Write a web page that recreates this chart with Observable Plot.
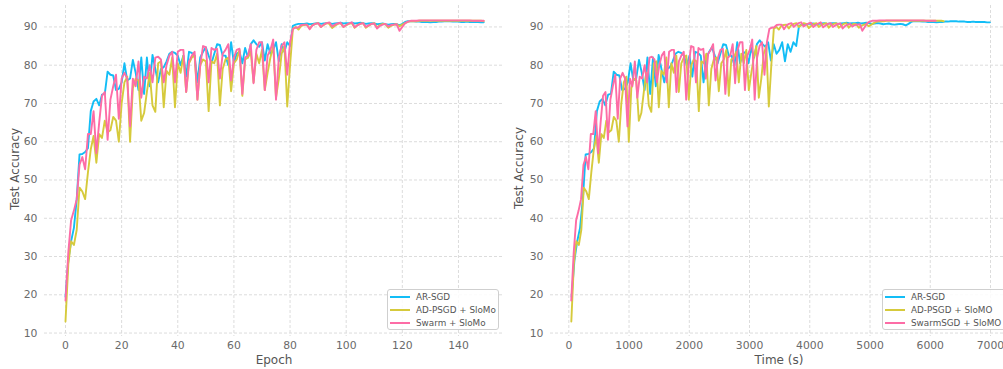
<!DOCTYPE html>
<html><head><meta charset="utf-8">
<script src="https://cdn.jsdelivr.net/npm/d3@7"></script>
<script src="https://cdn.jsdelivr.net/npm/@observablehq/plot@0.6"></script>
<style>
body{margin:0;background:#fff;font-family:"DejaVu Sans",sans-serif;}
#wrap{position:relative;width:1003px;height:369px;overflow:hidden;background:#fff;}
.panel{position:absolute;top:0;}
.title{position:absolute;font-size:12px;color:#555;white-space:nowrap;line-height:1;}
.ylab{transform:translate(-50%,-50%) rotate(-90deg);}
.xlab{transform:translate(-50%,-50%);}
.legend{position:absolute;top:289px;height:41px;box-sizing:border-box;border:1px solid #cfcfcf;border-radius:3px;background:rgba(255,255,255,0.85);font-size:8.8px;color:#555;padding:0 0 0 2px;}
.legend .row{display:flex;align-items:center;height:13px;white-space:nowrap;}
.legend .row:first-child{margin-top:0.5px;}
.legend .sw{width:20px;height:2px;margin-right:6px;flex:none;}
</style>
</head><body>
<div id="wrap"></div>
<script>
// ---- data ----
const epochs = d3.range(150);
const seriesKeys = ["AR-SGD", "AD-PSGD", "Swarm"];
const seriesColors = ["#12bdf6", "#d6ca3c", "#fd6ca6"];
const legendLeft = ["AR-SGD", "AD-PSGD + SloMo", "Swarm + SloMo"];
const legendRight = ["AR-SGD", "AD-PSGD + SloMO", "SwarmSGD + SloMO"];
const secondsPerEpoch = [46.6, 41.5, 40.6];
const yTicks = [10, 20, 30, 40, 50, 60, 70, 80, 90];
const epochTicks = [0, 20, 40, 60, 80, 100, 120, 140];
const timeTicks = [0, 1000, 2000, 3000, 4000, 5000, 6000, 7000];

const arSGD = [19.5,29,34,37.5,45,56.7,56.8,57.3,58.3,68,
 70.5,71.2,69.5,72.3,72.5,78.3,77.5,77.3,73.5,73.8,
 75.5,80.5,76,76.5,81.4,78,73.5,82,72.5,82,
 74.5,82.7,79,75.5,79,79.5,81,83,83.5,83.2,
 82.5,80,82.5,77,83.5,83.2,82.5,75.5,82,83.5,
 84.7,82.5,80.5,83,85.5,85.3,82.5,82.5,80,86,
 80.5,83,83.5,80.5,84.5,82,85.5,86.5,85.5,84.8,
 86,81.2,85.5,83,84,86,81,85.5,83.5,86,
 85,90.3,90.6,90.8,90.8,90.8,90.9,90.7,90.8,90.9,
 91.0,90.8,90.9,91.0,91.0,90.8,90.9,91.0,91.1,90.9,
 91.0,91.0,91.1,90.9,91.0,91.1,91.0,90.8,90.9,91.0,
 90.9,90.7,90.8,90.9,90.7,90.6,90.7,90.8,90.7,90.4,
 90.8,91.3,91.5,91.5,91.5,91.4,91.4,91.3,91.3,91.3,
 91.2,91.3,91.3,91.4,91.4,91.5,91.5,91.5,91.4,91.4,
 91.4,91.3,91.3,91.4,91.3,91.3,91.3,91.3,91.2,91.2];

const adPSGD = [13,28,34,33,37,48,47,45,52,58,
 61.5,54.5,62,61,65.5,62.5,63,66.5,65.5,60,
 70,75.5,77,60,74,76.5,76,65.5,67.5,73,
 78,69.5,67.8,80.5,81,69,78.5,77.5,82,69,
 80.5,78,82.5,73,80.5,82,82.5,71,80,81.5,
 81,68,81,80.5,83,69.5,79,81.5,82,73.2,
 80.5,81.5,84,72,81.5,82,83.5,75.5,83,80.5,
 84,73.5,78,82,85,71.5,76.5,83,85,69.2,
 80,89.5,90,89.3,90.3,90.5,90.6,89.6,90.5,90.8,
 91,90,90.5,91,90.8,89.7,90.3,90.8,91,90,
 90.5,90.8,91,89.8,90.5,90.8,91,89.8,90.3,90.8,
 91,89.8,90.5,90.8,90.7,89.8,90.3,90.6,90.7,90.2,
 90.6,91.0,91.3,91.5,91.5,91.5,91.6,91.6,91.6,91.6,
 91.6,91.6,91.6,91.6,91.6,91.6,91.6,91.6,91.6,91.6,
 91.6,91.6,91.6,91.6,91.6,91.6,91.6,91.6,91.6,91.5];

const swarm = [18.5,31,39.5,42,45,54,56,52.8,62,62,
 68,57,65,72,73,60.5,71,74.5,77.5,66,
 76.5,78,76.5,64,76.5,74.5,81,71.5,77,76.5,
 80,75.5,82,82.2,81.5,75.5,80,82.5,83.5,75.5,
 83.5,84,84,73,81,82.5,83.5,71,80,85,
 84.7,75.5,84.5,84,84.3,76.5,83,84,85.5,76,
 82,84,84.3,72.5,82,82.5,85.5,75.3,84,86,
 86,73.5,82.5,84,86.7,71,82,85,86,77.5,
 86,89.5,89.8,89.9,90.5,90.6,90.6,89.4,90.4,90.8,
 91.0,90.0,90.6,91.0,91.2,90.1,90.6,90.9,91.1,90.0,
 90.5,90.9,91.2,89.9,90.4,90.8,91.0,90.0,90.4,90.8,
 90.9,89.6,90.3,90.6,90.8,90.1,90.5,90.6,90.7,89.0,
 90.0,91.0,91.4,91.6,91.6,91.6,91.7,91.7,91.7,91.7,
 91.7,91.7,91.7,91.7,91.7,91.7,91.7,91.7,91.7,91.7,
 91.7,91.7,91.7,91.7,91.7,91.6,91.6,91.6,91.6,91.6];

// ---- table ----
const allValues = [arSGD, adPSGD, swarm];
const rows = [];
allValues.forEach((vals, s) => vals.forEach((v, i) => rows.push({
  key: seriesKeys[s], epoch: epochs[i], time: (epochs[i] + 1) * secondsPerEpoch[s], acc: v
})));

function panel(xField, xDomain, xTicks, width, ml, mr) {
  return Plot.plot({
    width, height: 369, marginTop: 5, marginBottom: 33, marginLeft: ml, marginRight: mr,
    style: {fontFamily: "DejaVu Sans", fontSize: "10.8px", color: "#6a6a6a", background: "transparent", overflow: "visible"},
    x: {domain: xDomain, label: null},
    y: {domain: [9.1, 95.6], label: null},
    color: {domain: seriesKeys, range: seriesColors},
    marks: [
      Plot.gridX({ticks: xTicks, stroke: "#dcdcdc", strokeOpacity: 1, strokeDasharray: "3,2"}),
      Plot.gridY({ticks: yTicks, stroke: "#dcdcdc", strokeOpacity: 1, strokeDasharray: "3,2"}),
      Plot.axisX({ticks: xTicks, tickSize: 0, tickPadding: 5, tickFormat: d3.format("d"), label: null}),
      Plot.axisY({ticks: yTicks, tickSize: 0, tickPadding: 7, tickFormat: d3.format("d"), label: null}),
      Plot.line(rows, {x: xField, y: "acc", stroke: "key", z: "key", strokeWidth: 1.9})
    ]
  });
}

const wrap = document.getElementById("wrap");
const left = panel("epoch", [-7.48, 156.4], epochTicks, 505, 44, 1);
left.classList.add("panel"); left.style.left = "0px";
wrap.appendChild(left);
const right = panel("time", [-304, 7299], timeTicks, 510, 50, 2);
right.classList.add("panel"); right.style.left = "500px";
wrap.appendChild(right);

function addTitle(text, x, y, cls) {
  const d = document.createElement("div");
  d.className = "title " + cls;
  d.textContent = text;
  d.style.left = x + "px"; d.style.top = y + "px";
  wrap.appendChild(d);
}
addTitle("Epoch", 274, 360, "xlab");
addTitle("Time (s)", 779, 360, "xlab");
addTitle("Test Accuracy", 15, 169, "ylab");
addTitle("Test Accuracy", 519, 168, "ylab");

function addLegend(labels, x, w) {
  const box = document.createElement("div");
  box.className = "legend";
  box.style.left = x + "px"; box.style.width = w + "px";
  labels.forEach((lab, i) => {
    const r = document.createElement("div"); r.className = "row";
    const sw = document.createElement("span"); sw.className = "sw"; sw.style.background = seriesColors[i];
    const t = document.createElement("span"); t.textContent = lab;
    r.appendChild(sw); r.appendChild(t); box.appendChild(r);
  });
  wrap.appendChild(box);
}
addLegend(legendLeft, 387, 112);
addLegend(legendRight, 882, 130);
</script>
</body></html>
